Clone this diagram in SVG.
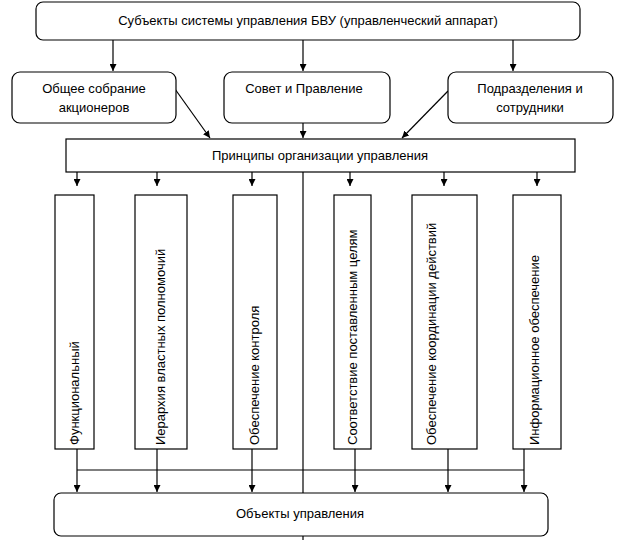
<svg xmlns="http://www.w3.org/2000/svg" width="617" height="540" viewBox="0 0 617 540">
<style>
.b{fill:#fff;stroke:#000;stroke-width:1.2}
.t{font-family:"Liberation Sans",Arial,sans-serif;font-size:13px;fill:#000}
.c{text-anchor:middle}
.v{text-anchor:start}
.l{stroke:#000;stroke-width:1.2;fill:none}
</style>
<defs><marker id="a" viewBox="0 0 10 10" refX="10" refY="5" markerWidth="7" markerHeight="7" markerUnits="userSpaceOnUse" orient="auto"><path d="M0,0L10,5L0,10z"/></marker></defs>
<rect width="617" height="540" fill="#fff"/>
<g id="connectors" class="l">
<path d="M113,40V71" marker-end="url(#a)"/>
<path d="M303,40V71" marker-end="url(#a)"/>
<path d="M513,40V71" marker-end="url(#a)"/>
<path d="M175,89L210,138" marker-end="url(#a)"/>
<path d="M303,123V138" marker-end="url(#a)"/>
<path d="M448,91L402,138" marker-end="url(#a)"/>
<path d="M77,172V186" marker-end="url(#a)"/>
<path d="M157,172V186" marker-end="url(#a)"/>
<path d="M252,172V186" marker-end="url(#a)"/>
<path d="M350,172V186" marker-end="url(#a)"/>
<path d="M444,172V186" marker-end="url(#a)"/>
<path d="M537,172V186" marker-end="url(#a)"/>
<path d="M303,172V493"/>
<path d="M303,535V540"/>
<path d="M77,470H524"/>
<path d="M77,449V492" marker-end="url(#a)"/>
<path d="M157,449V492" marker-end="url(#a)"/>
<path d="M252,449V492" marker-end="url(#a)"/>
<path d="M355,449V492" marker-end="url(#a)"/>
<path d="M448,449V492" marker-end="url(#a)"/>
<path d="M524,449V492" marker-end="url(#a)"/>
</g>
<g id="subj"><rect class="b" x="36" y="2" width="544" height="38" rx="7"/><text class="t c" x="308" y="25">Субъекты системы управления БВУ (управленческий аппарат)</text></g>
<g id="n1"><rect class="b" x="12" y="72" width="164" height="51" rx="8"/><text class="t c" x="94" y="93">Общее собрание</text><text class="t c" x="94" y="112">акционеров</text></g>
<g id="n2"><rect class="b" x="224" y="72" width="166" height="51" rx="8"/><text class="t c" x="304" y="93">Совет и Правление</text></g>
<g id="n3"><rect class="b" x="448" y="72" width="165" height="51" rx="8"/><text class="t c" x="530" y="93">Подразделения и</text><text class="t c" x="530" y="112">сотрудники</text></g>
<g id="pr"><rect class="b" x="66" y="139" width="509" height="33"/><text class="t c" x="320" y="160">Принципы организации управления</text></g>
<g id="v1"><rect class="b" x="55" y="195" width="39" height="254"/><text class="t v" transform="translate(79,445) rotate(-90)">Функциональный</text></g>
<g id="v2"><rect class="b" x="135" y="195" width="52" height="254"/><text class="t v" transform="translate(165,445) rotate(-90)">Иерархия властных полномочий</text></g>
<g id="v3"><rect class="b" x="233" y="195" width="44" height="254"/><text class="t v" transform="translate(259,445) rotate(-90)">Обеспечение контроля</text></g>
<g id="v4"><rect class="b" x="334" y="195" width="37" height="254"/><text class="t v" transform="translate(357,445) rotate(-90)">Соответствие поставленным целям</text></g>
<g id="v5"><rect class="b" x="412" y="195" width="65" height="254"/><text class="t v" transform="translate(436,445) rotate(-90)">Обеспечение координации действий</text></g>
<g id="v6"><rect class="b" x="513" y="195" width="48" height="254"/><text class="t v" transform="translate(539,445) rotate(-90)">Информационное обеспечение</text></g>
<g id="obj"><rect class="b" x="54" y="493" width="494" height="43" rx="7"/><text class="t c" x="300" y="518">Объекты управления</text></g>
</svg>
